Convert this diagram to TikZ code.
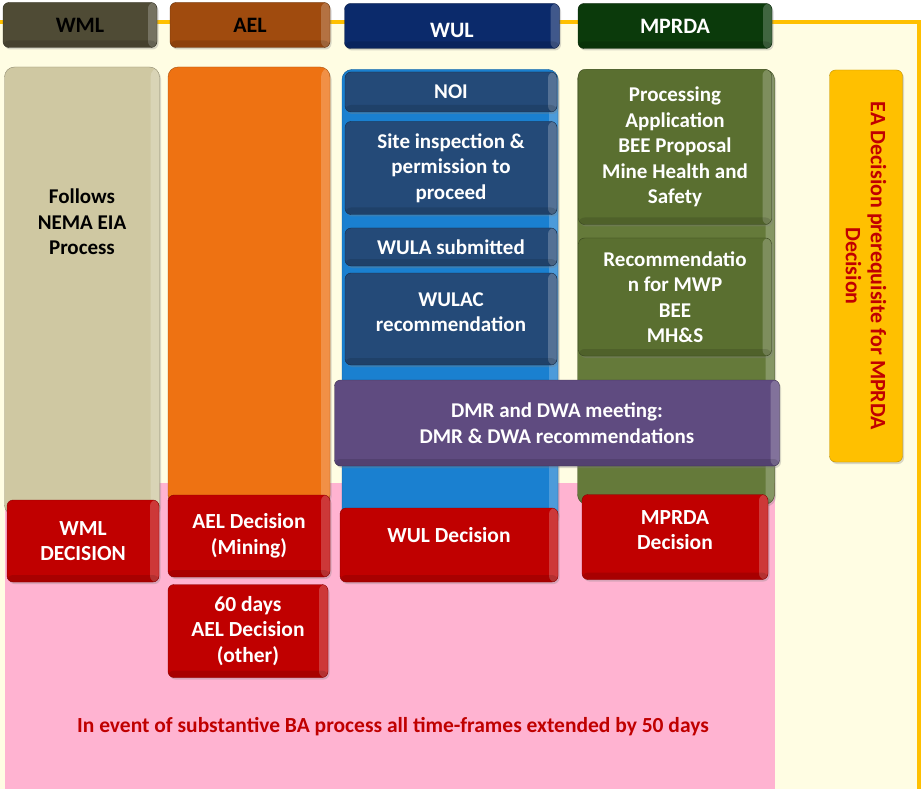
\documentclass[tikz,border=0pt]{standalone}
\usepackage{fontspec}
\setmainfont{Carlito}
\usetikzlibrary{shapes.geometric, shadows, positioning}
\definecolor{wmlhead}{HTML}{4F4B35}
\definecolor{wmlbody}{HTML}{CFC8A2}
\definecolor{aelhead}{HTML}{A04B0E}
\definecolor{aelbody}{HTML}{EE7212}
\definecolor{wulhead}{HTML}{0B2A6B}
\definecolor{wulbody}{HTML}{1A80D0}
\definecolor{wulstage}{HTML}{244A78}
\definecolor{mprhead}{HTML}{0B3A0B}
\definecolor{mprbody}{HTML}{657A3A}
\definecolor{mprstage}{HTML}{5A6F30}
\definecolor{meeting}{HTML}{5F4B80}
\definecolor{decred}{HTML}{C00000}
\definecolor{eagold}{HTML}{FFC000}
\definecolor{bapink}{HTML}{FFB3D1}
\definecolor{cream}{HTML}{FFFDE3}
\tikzstyle{bevel} = [path picture={\fill[white, opacity=0.22] ([xshift=-9pt]path picture bounding box.north east) rectangle (path picture bounding box.south east); \fill[black, opacity=0.12] (path picture bounding box.south west) rectangle ([yshift=7pt]path picture bounding box.south east);}]
\tikzstyle{box} = [rectangle, rounded corners=6pt, align=center, inner sep=2pt, bevel, drop shadow={opacity=0.3, shadow xshift=1.5pt, shadow yshift=-2pt}, font=\bfseries\fontsize{21}{25.5}\selectfont]
\tikzstyle{head} = [box, minimum height=45pt, font=\bfseries\fontsize{22}{24}\selectfont]
\tikzstyle{column} = [box, rounded corners=10pt]
\tikzstyle{stage} = [box, text=white]
\tikzstyle{decision} = [box, fill=decred, draw=decred!70!black, text=white, font=\bfseries\fontsize{21.5}{25.5}\selectfont]

\begin{document}
\begin{tikzpicture}[x=1pt, y=-1pt]
	\useasboundingbox (0,0) rectangle (922,789);
	% backgrounds
	\fill [cream] (0,22) rectangle (919,789);
	\fill [bapink] (5,483) rectangle (775,789);
	\draw [eagold, line width=3.5pt] (0,22) -- (919,22) -- (919,791);
	% headers
	\node (WMLHead) [head, fill=wmlhead, draw=wmlhead!60!black, minimum width=154pt] at (80,25) {WML};
	\node (AELHead) [head, fill=aelhead, draw=aelhead!60!black, minimum width=160pt] at (250,25) {AEL};
	\node (WULHead) [head, fill=wulhead, draw=wulhead!60!black, text=white, minimum width=215pt, text height=24pt] at (452,26) {WUL};
	\node (MPRDAHead) [head, fill=mprhead, draw=mprhead!60!black, text=white, minimum width=194pt] at (675,26) {MPRDA};
	% columns
	\node (WMLBody) [column, fill=wmlbody, draw=wmlbody!70!black, minimum width=155pt, minimum height=448pt] at (82,291) {};
	\node (AELBody) [column, fill=aelbody, draw=aelbody!70!black, minimum width=162pt, minimum height=438pt] at (249,286) {};
	\node (WULBody) [column, fill=wulbody, draw=wulbody!70!black, minimum width=216pt, minimum height=455pt] at (450,297) {};
	\node (MPRDABody) [column, fill=mprbody, draw=mprbody!70!black, minimum width=197pt, minimum height=435pt] at (676,287) {};
	\node (WMLText) at (82,222) [align=center, font=\bfseries\fontsize{21}{25.5}\selectfont] {Follows\\NEMA EIA\\Process};
	% WUL stages
	\node (NOI) [stage, fill=wulstage, draw=wulstage!60!black, minimum width=212pt, minimum height=40pt] at (451,92) {NOI};
	\node (Site) [stage, fill=wulstage, draw=wulstage!60!black, minimum width=212pt, minimum height=93pt] at (451,168) {Site inspection \&\\permission to\\proceed};
	\node (WULA) [stage, fill=wulstage, draw=wulstage!60!black, minimum width=212pt, minimum height=38pt] at (451,247) {WULA submitted};
	\node (WULAC) [stage, fill=wulstage, draw=wulstage!60!black, minimum width=212pt, minimum height=92pt, text depth=14pt] at (451,319) {WULAC\\recommendation};
	% MPRDA stages
	\node (Processing) [stage, fill=mprstage, draw=mprstage!60!black, minimum width=193pt, minimum height=155pt] at (675,147) {Processing\\Application\\BEE Proposal\\Mine Health and\\Safety};
	\node (Recommend) [stage, fill=mprstage, draw=mprstage!60!black, minimum width=193pt, minimum height=118pt] at (675,297) {Recommendatio\\n for MWP\\BEE\\MH\&S};
	\node (Meeting) [stage, fill=meeting, draw=meeting!60!black, minimum width=445pt, minimum height=86pt] at (557,423) {DMR and DWA meeting:\\DMR \& DWA recommendations};
	% decisions
	\node (WMLDec) [decision, minimum width=152pt, minimum height=82pt] at (83,541) {WML\\DECISION};
	\node (AELDec) [decision, minimum width=162pt, minimum height=82pt] at (249,536) {AEL Decision\\(Mining)};
	\node (AELOther) [decision, minimum width=160pt, minimum height=93pt] at (248,631) {60 days\\AEL Decision\\(other)};
	\node (WULDec) [decision, minimum width=218pt, minimum height=74pt, text depth=21pt] at (449,545) {WUL Decision};
	\node (MPRDADec) [decision, minimum width=186pt, minimum height=85pt, text depth=14pt] at (675,537) {MPRDA\\Decision};
	% EA prerequisite
	\node (EADec) [box, fill=eagold, draw=eagold!75!black, text=decred, rotate=-90, minimum width=392pt, minimum height=73pt, font=\bfseries\fontsize{22}{25}\selectfont] at (866,266) {EA Decision prerequisite for MPRDA\\Decision};
	\node (BANote) at (393,727) [text=decred, font=\bfseries\fontsize{21.5}{22}\selectfont] {In event of substantive BA process all time-frames extended by 50 days};
\end{tikzpicture}
\end{document}
